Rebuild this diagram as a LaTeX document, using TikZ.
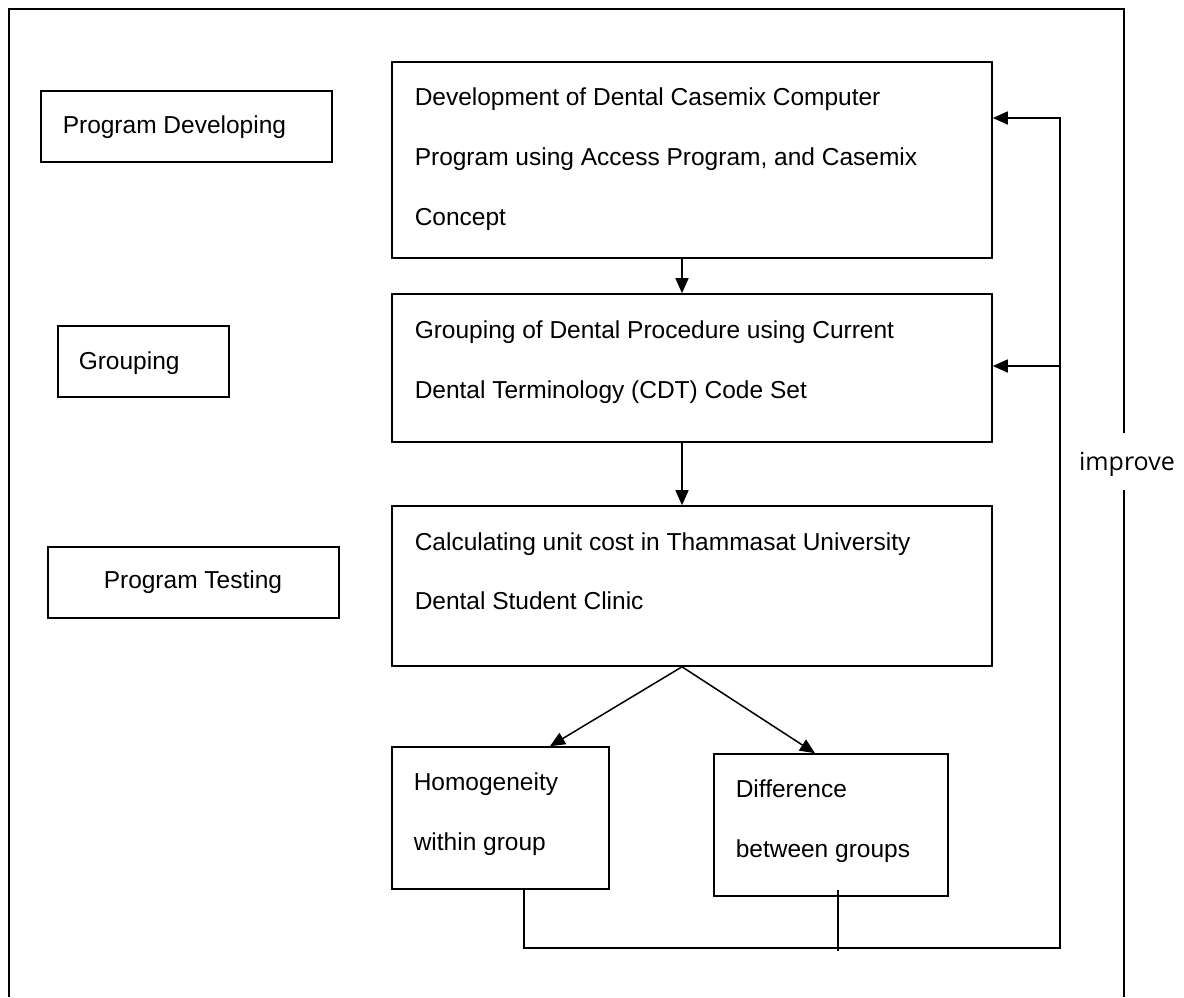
\documentclass[tikz,border=0pt]{standalone}
\usepackage{fontspec}
\setmainfont{Liberation Sans}
\newfontfamily\impfont{Open Sans}
\usetikzlibrary{arrows.meta}
\begin{document}
\begin{tikzpicture}[x=1pt,y=-1pt,line width=1.5pt,
  box/.style={draw,rectangle,inner sep=0pt,line width=1.6pt},
  txt/.style={anchor=base west,inner sep=0pt,font=\fontsize{24.5}{29}\selectfont},
  arr/.style={-{Triangle[length=15pt,width=13pt]},line width=1.5pt}]
\useasboundingbox (0,0) rectangle (1184,997);
% outer frame
\draw (1124,433) -- (1124,9) -- (9,9) -- (9,997);
\draw (1124,490) -- (1124,997);
\node[anchor=base,inner sep=0pt,font=\impfont\fontsize{25}{30}\selectfont] (imp) at (1127,470) {improve};
% left stage boxes
\node[box,minimum width=291pt,minimum height=71pt] (pd) at (186.5,126.5) {};
\node[txt] (pdt) at (62,133) {Program Developing};
\node[box,minimum width=171pt,minimum height=71pt] (gr) at (143.5,361.5) {};
\node[txt] (grt) at (78,369) {Grouping};
\node[box,minimum width=291pt,minimum height=71pt] (pt) at (193.5,582.5) {};
\node[txt] (ptt) at (103,588) {Program Testing};
% main boxes
\node[box,minimum width=600pt,minimum height=196pt] (b1) at (692,160) {};
\node[txt] (b1a) at (414,105) {Development of Dental Casemix Computer};
\node[txt] (b1b) at (414,165) {Program using Access Program, and Casemix};
\node[txt] (b1c) at (414,225) {Concept};
\node[box,minimum width=600pt,minimum height=148pt] (b2) at (692,368) {};
\node[txt] (b2a) at (414,338) {Grouping of Dental Procedure using Current};
\node[txt] (b2b) at (414,398) {Dental Terminology (CDT) Code Set};
\node[box,minimum width=600pt,minimum height=160pt] (b3) at (692,586) {};
\node[txt] (b3a) at (414,550) {Calculating unit cost in Thammasat University};
\node[txt] (b3b) at (414,609) {Dental Student Clinic};
\node[box,minimum width=217pt,minimum height=142pt] (hm) at (500.5,818) {};
\node[txt] (hma) at (413,790) {Homogeneity};
\node[txt] (hmb) at (413,850) {within group};
\node[box,minimum width=234pt,minimum height=142pt] (df) at (831,825) {};
\node[txt] (dfa) at (735,797) {Difference};
\node[txt] (dfb) at (735,857) {between groups};
% connectors
\draw[arr] ([xshift=-10pt]b1.south) -- ([xshift=-10pt]b2.north);
\draw[arr] ([xshift=-10pt]b2.south) -- ([xshift=-10pt]b3.north);
\coordinate (sp) at ([xshift=-10pt]b3.south);
\draw[arr] (sp) -- ([xshift=49.5pt]hm.north);
\draw[arr] (sp) -- ([xshift=-16pt]df.north);
\coordinate (fbk) at (1060,948);
\coordinate (br) at (1060,366);
\draw[arr] ([xshift=23.5pt]hm.south) |- (fbk) |- ([yshift=42pt]b1.east);
\draw[arr] (br) -- ([yshift=2pt]b2.east);
\draw ([xshift=7pt,yshift=7pt]df.south) -- ++(0,61);
\end{tikzpicture}
\end{document}
